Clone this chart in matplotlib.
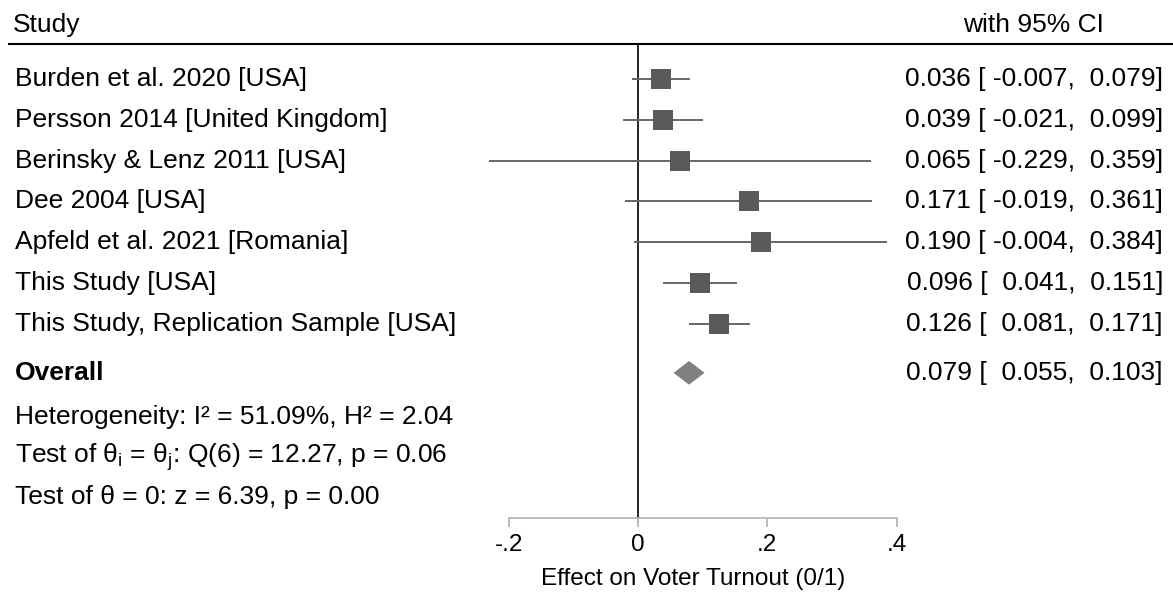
import matplotlib
matplotlib.use("Agg")
import matplotlib.pyplot as plt

plt.rcParams['font.family'] = ['Liberation Sans', 'DejaVu Sans']
plt.rcParams['mathtext.fontset'] = 'custom'
plt.rcParams['mathtext.rm'] = 'Liberation Sans'
plt.rcParams['mathtext.it'] = 'Liberation Sans:italic'

studies = ["Burden et al. 2020 [USA]", "Persson 2014 [United Kingdom]",
           "Berinsky & Lenz 2011 [USA]", "Dee 2004 [USA]",
           "Apfeld et al. 2021 [Romania]", "This Study [USA]",
           "This Study, Replication Sample [USA]"]
effect = [0.036, 0.039, 0.065, 0.171, 0.190, 0.096, 0.126]
lower = [-0.007, -0.021, -0.229, -0.019, -0.004, 0.041, 0.081]
upper = [0.079, 0.099, 0.359, 0.361, 0.384, 0.151, 0.171]
overall = (0.079, 0.055, 0.103)
stats_lines = ["Heterogeneity: I² = 51.09%, H² = 2.04",
               r"Test of θ$_\mathrm{i}$ = θ$_\mathrm{j}$: Q(6) = 12.27, p = 0.06",
               "Test of θ = 0: z = 6.39, p = 0.00"]
xticks = [-0.2, 0, 0.2, 0.4]
xticklabels = ["-.2", "0", ".2", ".4"]

fs = 19
fs_ax = 17.5
fig = plt.figure(figsize=(11.73, 5.94), dpi=100)
ax = fig.add_axes([0, 0, 1, 1])
ax.set_xlim(-0.9865, 0.8273)
ax.set_ylim(12.62, -1.936)

x_left = -0.963
x_right = 0.8118
y_over = 7.2
y_stats = [8.28, 9.26, 10.24]
y_axis = 10.76


def ci_text(e, lo, hi):
    lo_s = "%.3f" % lo if lo < 0 else " %.3f" % lo
    return "%.3f [ %s,  %.3f]" % (e, lo_s, hi)


# header
ax.text(-0.966, -1.32, "Study", fontsize=fs, va='center', ha='left')
ax.text(0.6123, -1.32, "with 95% CI", fontsize=fs, va='center', ha='center')
ax.plot([-0.974, 0.8273], [-0.86, -0.86], color='black', lw=1.5, solid_capstyle='butt')

# zero line
ax.plot([0, 0], [-0.86, y_axis], color='black', lw=1.2, zorder=1)

for i, name in enumerate(studies):
    ax.plot([lower[i], upper[i]], [i, i], color='#666666', lw=1.4, zorder=2)
    ax.plot(effect[i], i, marker='s', ms=13.7, color='#5a5a5a', mew=0, zorder=3)
    ax.text(x_left, i, name, fontsize=fs, va='center', ha='left')
    ax.text(x_right, i, ci_text(effect[i], lower[i], upper[i]),
            fontsize=fs, va='center', ha='right')

# overall diamond
est, lo, hi = overall
ax.fill([lo, est, hi, est], [y_over, y_over - 0.29, y_over, y_over + 0.29],
        color='#808080', lw=0, zorder=3)
ax.text(x_left, y_over, "Overall", fontsize=fs, fontweight='bold', va='center', ha='left')
ax.text(x_right, y_over, ci_text(est, lo, hi), fontsize=fs, va='center', ha='right')

for y, s in zip(y_stats, stats_lines):
    ax.text(x_left, y, s, fontsize=fs, va='center', ha='left')

# x axis
for side in ['top', 'left', 'right']:
    ax.spines[side].set_visible(False)
ax.spines['bottom'].set_position(('data', y_axis))
ax.spines['bottom'].set_bounds(-0.2, 0.4)
ax.spines['bottom'].set_color('#b0b0b0')
ax.spines['bottom'].set_linewidth(1.2)
ax.set_xticks(xticks)
ax.set_xticklabels(xticklabels)
ax.tick_params(axis='x', direction='out', length=6.5, width=1.2, color='#b0b0b0',
               labelsize=fs_ax, pad=5)
ax.set_yticks([])
ax.text(0.086, 12.25, "Effect on Voter Turnout (0/1)", fontsize=fs_ax, va='center', ha='center')

fig.savefig("out.png", dpi=100)
